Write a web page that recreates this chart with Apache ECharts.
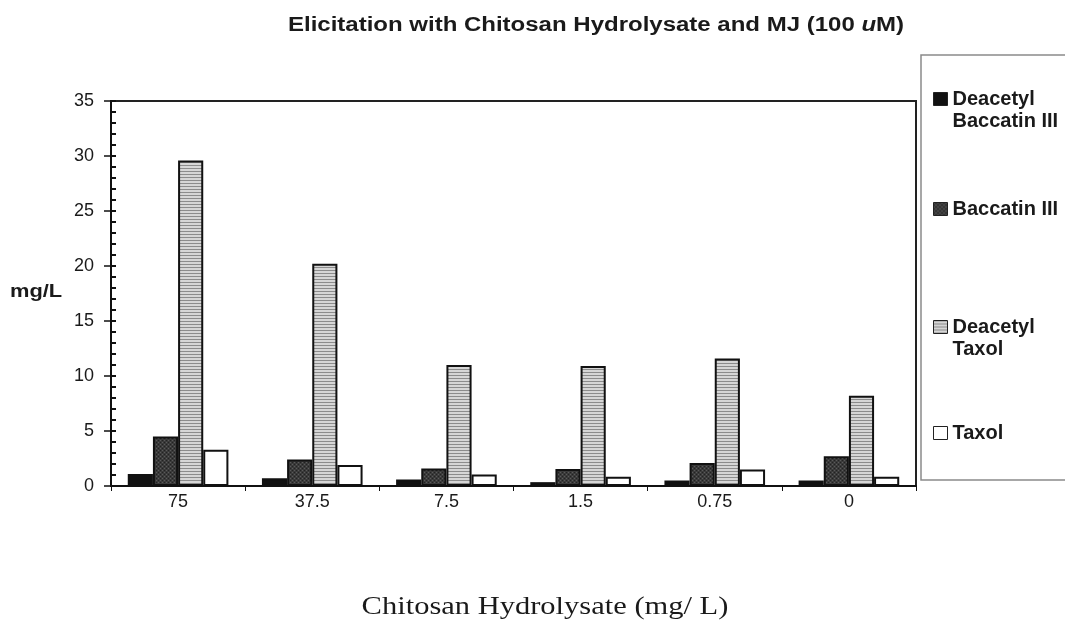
<!DOCTYPE html>
<html>
<head>
<meta charset="utf-8">
<script src="https://cdn.jsdelivr.net/npm/echarts@6/dist/echarts.min.js"></script>
<style>
  html, body { margin: 0; padding: 0; background: #fff; }
  #chart { width: 1065px; height: 626px; }
</style>
</head>
<body>
<div id="chart"></div>
<script>
// Chitosan hydrolysate concentrations (mg/L)
const categories = ['75', '37.5', '7.5', '1.5', '0.75', '0'];

// Taxane yields (mg/L) per elicitor concentration
const deacetylBaccatin = [1.1, 0.7, 0.6, 0.35, 0.5, 0.5];
const baccatin = [4.5, 2.4, 1.6, 1.55, 2.1, 2.7];
const deacetylTaxol = [29.6, 20.2, 11.0, 10.9, 11.6, 8.2];
const taxol = [3.3, 1.9, 1.05, 0.85, 1.5, 0.85];

const seriesNames = ['Deacetyl\nBaccatin III', 'Baccatin III', 'Deacetyl\nTaxol', 'Taxol'];
const yTicks = [0, 5, 10, 15, 20, 25, 30, 35];

const SANS = '"Liberation Sans", Arial, Helvetica, sans-serif';
const SERIF = '"Liberation Serif", "Times New Roman", serif';

// Horizontal-line hatch used for the Deacetyl Taxol bars
function stripePattern() {
  const c = document.createElement('canvas');
  c.width = 6; c.height = 3;
  const g = c.getContext('2d');
  g.fillStyle = '#d6d6d6';
  g.fillRect(0, 0, 6, 3);
  g.fillStyle = '#8c8c8c';
  g.fillRect(0, 0, 6, 1);
  return { image: c, repeat: 'repeat' };
}
// Fine stipple for the Baccatin III bars
function stipplePattern() {
  const c = document.createElement('canvas');
  c.width = 4; c.height = 4;
  const g = c.getContext('2d');
  g.fillStyle = '#3a3a3a';
  g.fillRect(0, 0, 4, 4);
  g.fillStyle = '#5a5a5a';
  g.fillRect(0, 0, 1, 1);
  g.fillRect(2, 2, 1, 1);
  g.fillStyle = '#222';
  g.fillRect(2, 0, 1, 1);
  g.fillRect(0, 2, 1, 1);
  return { image: c, repeat: 'repeat' };
}

const fills = ['#111111', stipplePattern(), stripePattern(), '#ffffff'];
const values = [deacetylBaccatin, baccatin, deacetylTaxol, taxol];
// legend rows: top offset of each entry in the side box
const legendTops = [66, 198, 294, 422];

const chart = echarts.init(document.getElementById('chart'));

chart.setOption({
  animation: false,
  backgroundColor: '#fff',
  grid: {
    left: 111, right: 149, top: 101, bottom: 140,
    show: true,
    borderColor: '#222',
    borderWidth: 2,
    backgroundColor: 'transparent'
  },
  legend: seriesNames.map((name, i) => ({
    data: [name],
    left: 933,
    top: legendTops[i],
    padding: 0,
    orient: 'vertical',
    icon: 'rect',
    itemWidth: 14,
    itemHeight: 13,
    itemGap: 0,
    selectedMode: false,
    itemStyle: { borderColor: '#222', borderWidth: 1 },
    // two-line names: an empty leading line keeps the swatch level with the first line
    formatter: (n) => (n.indexOf('\n') >= 0 ? '\n' + n : n),
    textStyle: {
      fontFamily: SANS,
      fontWeight: 'bold',
      fontSize: 20,
      lineHeight: 22,
      color: '#1a1a1a'
    }
  })),
  graphic: [
    {
      type: 'rect',
      shape: { x: 921, y: 55, width: 160, height: 425 },
      style: { fill: 'none', stroke: '#8a8a8a', lineWidth: 1.5 },
      z: 10
    },
    {
      // chart title
      type: 'text',
      x: 596,
      y: 25,
      scaleX: 1.2,
      style: {
        text: 'Elicitation with Chitosan Hydrolysate and MJ (100 {i|u}M)',
        font: 'bold 20px ' + SANS,
        fill: '#1a1a1a',
        align: 'center',
        verticalAlign: 'middle',
        rich: {
          i: { fontStyle: 'italic', fontWeight: 'bold', fontSize: 20, fontFamily: SANS, fill: '#1a1a1a' }
        }
      }
    },
    {
      // y-axis name
      type: 'text',
      x: 10,
      y: 292,
      scaleX: 1.15,
      style: {
        text: 'mg/L',
        font: 'bold 19px ' + SANS,
        fill: '#1a1a1a',
        align: 'left',
        verticalAlign: 'middle'
      }
    },
    {
      // x-axis name
      type: 'text',
      x: 545,
      y: 607,
      scaleX: 1.22,
      style: {
        text: 'Chitosan Hydrolysate (mg/ L)',
        font: '25px ' + SERIF,
        fill: '#1a1a1a',
        align: 'center',
        verticalAlign: 'middle'
      }
    }
  ],
  xAxis: {
    type: 'category',
    data: categories,
    axisLine: { lineStyle: { color: '#111', width: 2 } },
    axisTick: { show: true, alignWithLabel: false, length: 5, lineStyle: { color: '#111', width: 1 } },
    axisLabel: {
      margin: 7,
      fontFamily: SANS,
      fontSize: 18,
      color: '#1a1a1a'
    },
    splitLine: { show: false }
  },
  yAxis: [
    {
      type: 'value',
      position: 'left',
      min: yTicks[0],
      max: yTicks[yTicks.length - 1],
      interval: 5,
      axisLine: { show: true, lineStyle: { color: '#111', width: 2 } },
      axisTick: { show: true, inside: true, length: 5, lineStyle: { color: '#111', width: 2 } },
      minorTick: { show: true, splitNumber: 5, length: 5, lineStyle: { color: '#111', width: 2 } },
      axisLabel: {
        margin: 17,
        fontFamily: SANS,
        fontSize: 18,
        color: '#1a1a1a'
      },
      splitLine: { show: false }
    },
    {
      // outward half of the major ticks
      type: 'value',
      position: 'left',
      offset: 0,
      min: yTicks[0],
      max: yTicks[yTicks.length - 1],
      interval: 5,
      axisLine: { show: false },
      axisTick: { show: true, inside: false, length: 7, lineStyle: { color: '#111', width: 1.5 } },
      axisLabel: { show: false },
      splitLine: { show: false }
    }
  ],
  series: seriesNames.map((name, i) => ({
    name: name,
    type: 'bar',
    data: values[i],
    barGap: '0%',
    barCategoryGap: '25%',
    itemStyle: {
      color: fills[i],
      borderColor: '#111',
      borderWidth: 2
    }
  }))
});
</script>
</body>
</html>
